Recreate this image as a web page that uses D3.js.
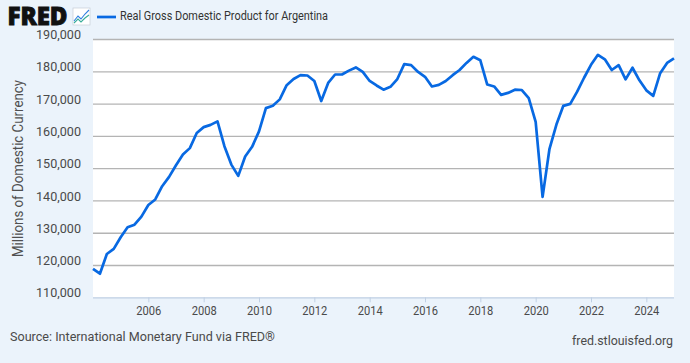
<!DOCTYPE html>
<html><head><meta charset="utf-8">
<script src="https://cdn.jsdelivr.net/npm/d3@7"></script>
<style>
html,body{margin:0;padding:0;background:#ebf3fb;}
svg{display:block;}
text{font-family:Roboto,sans-serif;}
</style></head><body>
<svg id="c" width="690" height="363"></svg>
<script>
const startYear = 2004;
const quartersPerYear = 4;
const gdpThousands = [
118.8,117.3,123.4,125.0,128.6,131.7,132.5,135.0,138.6,140.3,144.4,147.3,150.9,154.2,156.2,160.9,
162.7,163.4,164.5,156.8,151.1,147.6,153.6,156.6,161.4,168.6,169.3,171.3,175.7,177.6,178.8,178.7,
177.0,170.8,176.4,179.0,179.0,180.2,181.2,179.8,177.0,175.6,174.3,175.2,177.6,182.2,181.9,179.8,
178.3,175.3,175.8,177.0,178.8,180.4,182.6,184.5,183.4,175.9,175.3,172.7,173.3,174.3,174.2,171.7,
164.3,141.1,156.0,163.5,169.3,169.9,173.7,178.0,182.0,185.1,183.7,180.4,181.9,177.5,181.1,177.2,
174.1,172.4,179.4,182.6,184.0];
const yTicks = [110000,120000,130000,140000,150000,160000,170000,180000,190000];
const xTicks = [2006,2008,2010,2012,2014,2016,2018,2020,2022,2024];
const seriesName = "Real Gross Domestic Product for Argentina";
const yTitle = "Millions of Domestic Currency";
const sourceText = "Source: International Monetary Fund via FRED®";
const siteText = "fred.stlouisfed.org";

const L=93,R=674,T=39,B=297.3;
const svg=d3.select("#c");
const x=d3.scaleLinear().domain([2004,2025]).range([L,R]);
const y=d3.scaleLinear().domain([110000,190000]).range([B,T]);
const textCol="#4a4a4a";

svg.append("rect").attr("x",L).attr("y",T).attr("width",R-L).attr("height",B-T).attr("fill","#fff");

const gy=svg.append("g").attr("transform",`translate(${L},0)`)
  .call(d3.axisLeft(y).tickValues(yTicks).tickSize(0).tickPadding(12).tickFormat(d3.format(",")));
gy.select(".domain").remove();
gy.selectAll("text").attr("dy","-0.03em").attr("font-size",12.6).attr("fill",textCol).style("font-family","Roboto,sans-serif");
gy.selectAll("line").attr("x2",R-L).attr("stroke","#b4b4b4").attr("stroke-width",1.3);
gy.selectAll(".tick").filter(d=>d===110000).select("line").attr("stroke","#c0d0e4");

const gx=svg.append("g").attr("transform",`translate(0,${B})`)
  .call(d3.axisBottom(x).tickValues(xTicks).tickSize(5).tickPadding(4).tickFormat(d3.format("d")));
gx.select(".domain").remove();
gx.selectAll("line").attr("stroke","#c0d0e4");
gx.selectAll("text").attr("font-size",12).attr("fill",textCol).attr("textLength",25).attr("lengthAdjust","spacingAndGlyphs").style("font-family","Roboto,sans-serif");

const line=d3.line().x((d,i)=>x(startYear+i/quartersPerYear)).y(d=>y(d*1000));
svg.append("path").datum(gdpThousands).attr("d",line).attr("fill","none")
  .attr("stroke","#0869e2").attr("stroke-width",2.7).attr("stroke-linejoin","round");

svg.append("text").attr("transform","translate(23,168.5) rotate(-90)").attr("text-anchor","middle")
  .attr("font-size",14.4).attr("fill","#505050").attr("textLength",177).attr("lengthAdjust","spacingAndGlyphs").text(yTitle);

svg.append("text").attr("x",7.5).attr("y",25).attr("font-size",24).attr("font-weight",800)
  .attr("fill","#111").attr("stroke","#111").attr("stroke-width",.9).style("font-family","'Open Sans',sans-serif").attr("textLength",60).attr("lengthAdjust","spacingAndGlyphs").text("FRED");
const ic=svg.append("g").attr("transform","translate(73,8)");
ic.append("rect").attr("width",17).attr("height",17).attr("fill","#fff").attr("stroke","#c5cdd6").attr("stroke-width",.7);
ic.append("path").attr("d","M1 13L5 8L8 11L12 6L16 2").attr("fill","none").attr("stroke","#2f7fe0").attr("stroke-width",1.1);
ic.append("path").attr("d","M1 15L5 11L8 14L12 10L16 7").attr("fill","none").attr("stroke","#39ad9a").attr("stroke-width",1.1);

svg.append("line").attr("x1",97).attr("x2",116).attr("y1",17).attr("y2",17).attr("stroke","#0869e2").attr("stroke-width",2.7);
svg.append("text").attr("x",120).attr("y",20).attr("font-size",12.5).attr("fill","#333").attr("textLength",208).attr("lengthAdjust","spacingAndGlyphs").text(seriesName);

svg.append("text").attr("x",10).attr("y",341).attr("font-size",13.6).attr("fill",textCol).attr("textLength",265).attr("lengthAdjust","spacingAndGlyphs").text(sourceText);
svg.append("text").attr("x",673).attr("y",345).attr("text-anchor","end").attr("font-size",13.2).attr("fill",textCol).attr("textLength",101).attr("lengthAdjust","spacingAndGlyphs").text(siteText);
</script>
</body></html>
